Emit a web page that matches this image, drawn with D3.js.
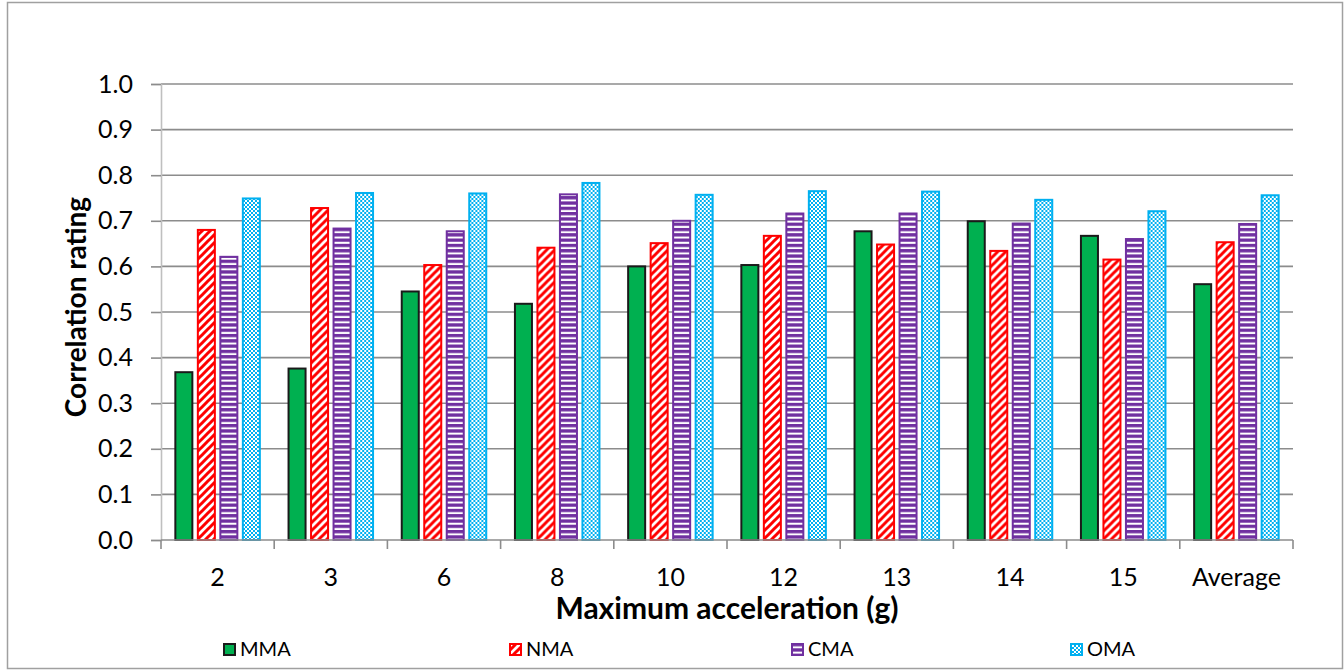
<!DOCTYPE html>
<html>
<head>
<meta charset="utf-8">
<script src="https://cdn.jsdelivr.net/npm/d3@7"></script>
<style>
  html, body { margin: 0; padding: 0; background: #fff; }
  svg { display: block; }
  text { font-family: Lato, "Open Sans", sans-serif; fill: #000; }
</style>
</head>
<body>
<svg id="chart" width="1344" height="671"></svg>
<script>
const categories = ["2", "3", "6", "8", "10", "12", "13", "14", "15", "Average"];
const seriesNames = ["MMA", "NMA", "CMA", "OMA"];
const MMA = [0.368, 0.376, 0.545, 0.518, 0.600, 0.603, 0.677, 0.699, 0.667, 0.561];
const NMA = [0.680, 0.728, 0.603, 0.641, 0.651, 0.667, 0.648, 0.634, 0.615, 0.653];
const CMA = [0.621, 0.683, 0.677, 0.758, 0.700, 0.716, 0.716, 0.694, 0.660, 0.693];
const OMA = [0.749, 0.761, 0.760, 0.783, 0.757, 0.765, 0.764, 0.746, 0.721, 0.756];
const yTicks = [0.0, 0.1, 0.2, 0.3, 0.4, 0.5, 0.6, 0.7, 0.8, 0.9, 1.0];
const xTitle = "Maximum acceleration (g)";
const yTitle = "Correlation rating";

const seriesValues = [MMA, NMA, CMA, OMA];
const strokes = ["#1a1a1a", "#ff0000", "#7030a0", "#00b0f0"];
const fills = ["#00b050", "url(#pNMA)", "url(#pCMA)", "url(#pOMA)"];

const svg = d3.select("#chart");
const plot = { left: 161, right: 1293, top: 84, bottom: 540 };

// outer border
svg.append("rect").attr("x", 7.5).attr("y", 2.5).attr("width", 1335).attr("height", 666)
  .attr("fill", "#fff").attr("stroke", "#a0a0a0").attr("stroke-width", 1.5);

// patterns
const defs = svg.append("defs");
const pN = defs.append("pattern").attr("id", "pNMA").attr("patternUnits", "userSpaceOnUse")
  .attr("width", 8).attr("height", 8);
pN.append("rect").attr("width", 8).attr("height", 8).attr("fill", "#fff");
pN.append("path").attr("d", "M-2,2 L2,-2 M0,8 L8,0 M6,10 L10,6")
  .attr("stroke", "#ff0000").attr("stroke-width", 3);
const pC = defs.append("pattern").attr("id", "pCMA").attr("patternUnits", "userSpaceOnUse")
  .attr("width", 6).attr("height", 5.3);
pC.append("rect").attr("width", 6).attr("height", 5.3).attr("fill", "#7030a0");
pC.append("rect").attr("y", 3.3).attr("width", 6).attr("height", 2).attr("fill", "#fff");
const pO = defs.append("pattern").attr("id", "pOMA").attr("patternUnits", "userSpaceOnUse")
  .attr("width", 4).attr("height", 4);
pO.append("rect").attr("width", 4).attr("height", 4).attr("fill", "#00b0f0");
pO.append("rect").attr("x", 0).attr("y", 0).attr("width", 2).attr("height", 2).attr("fill", "#fff");
pO.append("rect").attr("x", 2).attr("y", 2).attr("width", 2).attr("height", 2).attr("fill", "#fff");

// scales
const x = d3.scaleBand().domain(categories).range([plot.left, plot.right]).padding(0);
const xs = d3.scaleBand().domain(seriesNames).range([0, x.bandwidth()])
  .paddingInner(0.155).paddingOuter(0.593);
const y = d3.scaleLinear().domain([0, 1]).range([plot.bottom, plot.top]);

// gridlines
svg.append("g").selectAll("line").data(yTicks.filter(d => d > 0)).join("line")
  .attr("x1", plot.left).attr("x2", plot.right)
  .attr("y1", d => y(d)).attr("y2", d => y(d))
  .attr("stroke", "#8c8c8c").attr("stroke-width", 1.6);

// y axis
const yAxis = d3.axisLeft(y).tickValues(yTicks).tickFormat(d3.format(".1f")).tickSize(10).tickPadding(18);
const gy = svg.append("g").attr("transform", `translate(${plot.left},0)`).call(yAxis);
gy.select(".domain").attr("stroke", "#bfbfbf").attr("stroke-width", 1.6);
gy.selectAll(".tick line").attr("stroke", "#8c8c8c").attr("stroke-width", 1.6);
gy.selectAll(".tick text").style("font-size", "25px").style("font-family", "Lato, sans-serif").attr("fill", "#000");

// bars
const groups = svg.append("g").selectAll("g").data(categories).join("g")
  .attr("transform", d => `translate(${x(d)},0)`);
groups.selectAll("rect").data((c, i) => seriesNames.map((s, k) => ({ s, k, v: seriesValues[k][i] })))
  .join("rect")
  .attr("x", d => xs(d.s) + 1)
  .attr("width", xs.bandwidth() - 2)
  .attr("y", d => y(d.v))
  .attr("height", d => y(0) - y(d.v))
  .attr("fill", d => fills[d.k])
  .attr("stroke", d => strokes[d.k])
  .attr("stroke-width", 2);

// x axis
const gx = svg.append("g").attr("transform", `translate(0,${plot.bottom})`);
gx.append("line").attr("x1", plot.left).attr("x2", plot.right).attr("y1", 0).attr("y2", 0)
  .attr("stroke", "#8c8c8c").attr("stroke-width", 1.6);
const bounds = categories.map(c => x(c)).concat([plot.right]);
gx.selectAll("line.tk").data(bounds).join("line").attr("class", "tk")
  .attr("x1", d => d).attr("x2", d => d).attr("y1", 0).attr("y2", 9)
  .attr("stroke", "#8c8c8c").attr("stroke-width", 1.6);
gx.selectAll("text").data(categories).join("text")
  .attr("x", d => x(d) + x.bandwidth() / 2).attr("y", 46)
  .attr("text-anchor", "middle").style("font-size", "25px").text(d => d);

// titles
svg.append("text").attr("x", 727).attr("y", 619).attr("text-anchor", "middle")
  .style("font-size", "30px").style("font-weight", "bold").text(xTitle);
svg.append("text").attr("transform", "translate(86,307) rotate(-90)").attr("text-anchor", "middle")
  .style("font-size", "28px").style("font-weight", "bold").text(yTitle);

// legend
const legX = [223, 509, 791, 1070];
const leg = svg.append("g").selectAll("g").data(seriesNames).join("g")
  .attr("transform", (d, i) => `translate(${legX[i]},643)`);
leg.append("rect").attr("x", 1).attr("y", 1).attr("width", 11).attr("height", 11)
  .attr("fill", (d, i) => fills[i]).attr("stroke", (d, i) => strokes[i]).attr("stroke-width", 2);
leg.append("text").attr("x", 17).attr("y", 12.5).style("font-size", "20px").text(d => d);
</script>
</body>
</html>
